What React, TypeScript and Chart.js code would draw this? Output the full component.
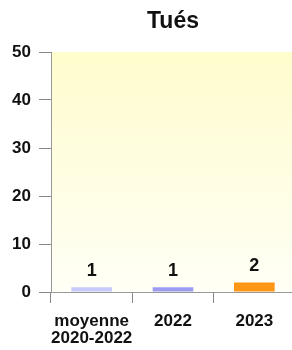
import React, { useEffect, useRef } from "react";
import { Chart, registerables } from "chart.js";

Chart.register(...registerables);

const categories: (string | string[])[] = [["moyenne", "2020-2022"], "2022", "2023"];
const values: number[] = [1, 1, 2];
const barColors: string[] = ["#c8c8fa", "#9b9bf2", "#ff9615"];
const yTicks: number[] = [0, 10, 20, 30, 40, 50];
const titleText = "Tués";

const FONT = "'Liberation Sans', Arial, sans-serif";

const bgPlugin = {
  id: "bgGrad",
  beforeDraw(chart: any) {
    const { ctx, chartArea } = chart;
    if (!chartArea) return;
    const g = ctx.createLinearGradient(0, chartArea.top, 0, chartArea.bottom);
    g.addColorStop(0, "rgb(255,252,205)");
    g.addColorStop(1, "rgb(255,255,246)");
    ctx.save();
    ctx.fillStyle = g;
    ctx.fillRect(chartArea.left, chartArea.top, chartArea.right - chartArea.left, chartArea.bottom - chartArea.top);
    ctx.restore();
  },
};

const labelPlugin = {
  id: "valLabels",
  afterDatasetsDraw(chart: any) {
    const { ctx } = chart;
    const meta = chart.getDatasetMeta(0);
    ctx.save();
    ctx.font = "bold 18px " + FONT;
    ctx.fillStyle = "#111";
    ctx.textAlign = "center";
    ctx.textBaseline = "alphabetic";
    meta.data.forEach((el: any, i: number) => {
      ctx.fillText(String(values[i]), el.x, el.y - 11.5);
    });
    ctx.restore();
  },
};

export default function App() {
  const ref = useRef<HTMLCanvasElement>(null);
  useEffect(() => {
    if (!ref.current) return;
    const chart = new Chart(ref.current, {
      type: "bar",
      data: {
        labels: categories,
        datasets: [
          {
            data: values,
            backgroundColor: barColors,
            borderWidth: 0,
            categoryPercentage: 1,
            barPercentage: 0.5,
          },
        ],
      },
      options: {
        animation: false,
        responsive: false,
        maintainAspectRatio: false,
        layout: { padding: { left: 0, right: 0, top: 0, bottom: 0 } },
        plugins: {
          legend: { display: false },
          tooltip: { enabled: false },
          title: {
            display: true,
            fullSize: false,
            text: titleText,
            color: "#111",
            font: { family: FONT, size: 23, weight: "bold", lineHeight: 1.2 },
            padding: { top: 8, bottom: 16.4 },
          },
        },
        scales: {
          x: {
            offset: true,
            grid: {
              offset: true,
              drawOnChartArea: false,
              drawTicks: true,
              tickLength: 11,
              color: "#888",
            },
            border: { display: true, color: "#999", width: 1 },
            ticks: {
              color: "#111",
              padding: 9,
              maxRotation: 0,
              autoSkip: false,
              font: { family: FONT, size: 17, weight: "bold", lineHeight: 1.04 },
            },
            afterFit: (s: any) => {
              s.height = 58;
            },
          },
          y: {
            min: 0,
            max: 50,
            afterBuildTicks: (s: any) => {
              s.ticks = yTicks.map((v) => ({ value: v }));
            },
            grid: {
              drawOnChartArea: false,
              drawTicks: true,
              tickLength: 12,
              color: "#888",
            },
            border: { display: true, color: "#999", width: 1 },
            ticks: {
              color: "#111",
              padding: 8,
              font: { family: FONT, size: 17, weight: "bold" },
            },
            afterFit: (s: any) => {
              s.width = 51;
            },
          },
        },
      },
      plugins: [bgPlugin, labelPlugin],
    });
    return () => chart.destroy();
  }, []);
  return (
    <div style={{ position: "absolute", left: 0, top: 0, width: 292, height: 350, overflow: "hidden", background: "#fff" }}>
      <canvas ref={ref} width={295} height={350} style={{ display: "block", width: 295, height: 350 }} />
    </div>
  );
}
